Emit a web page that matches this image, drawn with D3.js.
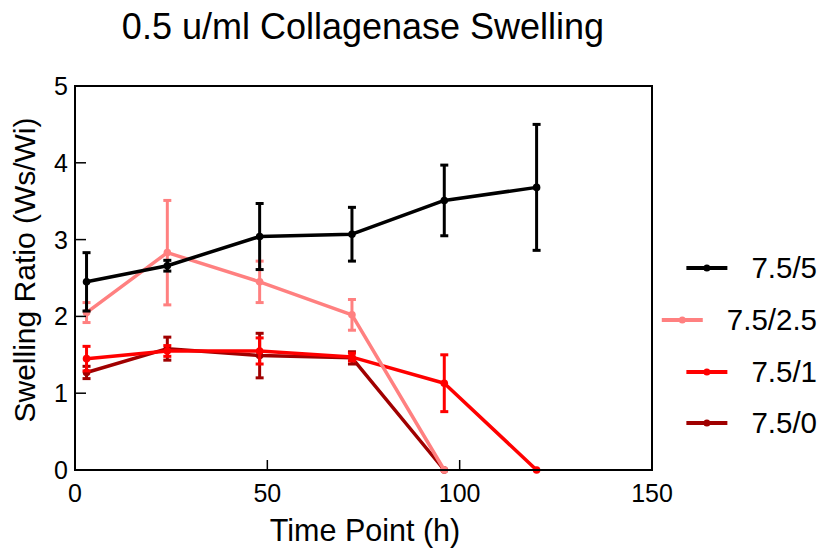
<!DOCTYPE html>
<html>
<head>
<meta charset="utf-8">
<script src="https://cdn.jsdelivr.net/npm/d3@7"></script>
<style>
  body { margin: 0; background: #fff; }
  svg text { font-family: "Liberation Sans", Arial, sans-serif; fill: #000; }
</style>
</head>
<body>
<svg id="chart" width="823" height="550"></svg>
<script>
// time points (h)
const timePoints = [3, 24, 48, 72, 96, 120];

// series names and colours
const seriesNames = ["7.5/5", "7.5/2.5", "7.5/1", "7.5/0"];
const seriesColors = ["#000000", "#FF8080", "#FF0000", "#A00000"];

// means per series (null = no point)
const mean_5   = [2.45, 2.66, 3.04, 3.07, 3.51, 3.68];
const mean_2_5 = [2.05, 2.83, 2.45, 2.02, 0, null];
const mean_1   = [1.45, 1.55, 1.55, 1.47, 1.13, 0];
const mean_0   = [1.27, 1.58, 1.49, 1.46, 0, null];

// error (+/-)
const err_5   = [0.38, 0.07, 0.43, 0.35, 0.46, 0.82];
const err_2_5 = [0.13, 0.68, 0.27, 0.20, 0, null];
const err_1   = [0.16, 0.07, 0.17, 0.05, 0.37, 0];
const err_0   = [0.08, 0.15, 0.29, 0.08, 0, null];

const xTicks = [0, 50, 100, 150];
const yTicks = [0, 1, 2, 3, 4, 5];

const means = [mean_5, mean_2_5, mean_1, mean_0];
const errs = [err_5, err_2_5, err_1, err_0];

const svg = d3.select("#chart");
const margin = { left: 75, top: 86, right: 171, bottom: 80 };
const width = 823 - margin.left - margin.right;
const height = 550 - margin.top - margin.bottom;

const x = d3.scaleLinear().domain([0, 150]).range([0, width]);
const y = d3.scaleLinear().domain([0, 5]).range([height, 0]);

const g = svg.append("g").attr("transform", `translate(${margin.left},${margin.top})`);

// series data
const series = seriesNames.map((name, i) => ({
  name: name,
  color: seriesColors[i],
  points: timePoints.map((t, j) => ({ t: t, v: means[i][j], e: errs[i][j] }))
                    .filter(p => p.v !== null)
}));

const line = d3.line().x(d => x(d.t)).y(d => y(d.v));

// draw last series first so black ends up on top
const layers = g.append("g").selectAll("g")
  .data(series.slice().reverse())
  .enter()
  .append("g");

layers.append("path")
  .attr("d", d => line(d.points))
  .attr("fill", "none")
  .attr("stroke", d => d.color)
  .attr("stroke-width", 3.5)
  .attr("stroke-linejoin", "round");

layers.each(function(s) {
  const grp = d3.select(this);
  const bars = s.points.filter(p => p.e > 0);
  grp.selectAll("line.err")
    .data(bars).enter().append("line")
    .attr("class", "err")
    .attr("x1", p => x(p.t)).attr("x2", p => x(p.t))
    .attr("y1", p => y(p.v - p.e)).attr("y2", p => y(p.v + p.e))
    .attr("stroke", s.color).attr("stroke-width", 3);
  ["top", "bot"].forEach(k => {
    grp.selectAll("line.cap" + k)
      .data(bars).enter().append("line")
      .attr("x1", p => x(p.t) - 4).attr("x2", p => x(p.t) + 4)
      .attr("y1", p => y(k === "top" ? p.v + p.e : p.v - p.e))
      .attr("y2", p => y(k === "top" ? p.v + p.e : p.v - p.e))
      .attr("stroke", s.color).attr("stroke-width", 3);
  });
  grp.selectAll("circle")
    .data(s.points).enter().append("circle")
    .attr("cx", p => x(p.t)).attr("cy", p => y(p.v))
    .attr("r", 3.8)
    .attr("fill", s.color);
});

// frame
g.append("rect")
  .attr("width", width).attr("height", height)
  .attr("fill", "none").attr("stroke", "#000").attr("stroke-width", 2);

// ticks (inward)
g.selectAll("line.xt").data(xTicks).enter().append("line")
  .attr("x1", d => x(d)).attr("x2", d => x(d))
  .attr("y1", height).attr("y2", height - 10)
  .attr("stroke", "#000").attr("stroke-width", 1.5);
g.selectAll("text.xt").data(xTicks).enter().append("text")
  .attr("x", d => x(d)).attr("y", height + 32)
  .attr("text-anchor", "middle").style("font-size", "25px")
  .text(d => d);

g.selectAll("line.yt").data(yTicks).enter().append("line")
  .attr("x1", 0).attr("x2", 11)
  .attr("y1", d => y(d)).attr("y2", d => y(d))
  .attr("stroke", "#000").attr("stroke-width", 1.5);
g.selectAll("text.yt").data(yTicks).enter().append("text")
  .attr("x", -7).attr("y", d => y(d) + 9)
  .attr("text-anchor", "end").style("font-size", "25px")
  .text(d => d);

// labels
svg.append("text")
  .attr("x", 363).attr("y", 39)
  .attr("text-anchor", "middle").style("font-size", "36px")
  .text("0.5 u/ml Collagenase Swelling");

svg.append("text")
  .attr("x", 365).attr("y", 541)
  .attr("text-anchor", "middle").style("font-size", "30.5px")
  .text("Time Point (h)");

svg.append("text")
  .attr("transform", "translate(35,270) rotate(-90)")
  .attr("text-anchor", "middle").style("font-size", "30px")
  .text("Swelling Ratio (Ws/Wi)");

// legend, right aligned
const legendY = [268, 320, 372, 423];
series.forEach((s, i) => {
  const t = svg.append("text")
    .attr("x", 817).attr("y", legendY[i] + 10)
    .attr("text-anchor", "end").style("font-size", "29.5px")
    .text(s.name);
  const start = 817 - t.node().getComputedTextLength();
  svg.append("line")
    .attr("x1", start - 65).attr("x2", start - 24)
    .attr("y1", legendY[i]).attr("y2", legendY[i])
    .attr("stroke", s.color).attr("stroke-width", 4);
  svg.append("circle")
    .attr("cx", start - 44.5).attr("cy", legendY[i]).attr("r", 3.5)
    .attr("fill", s.color);
});
</script>
</body>
</html>
